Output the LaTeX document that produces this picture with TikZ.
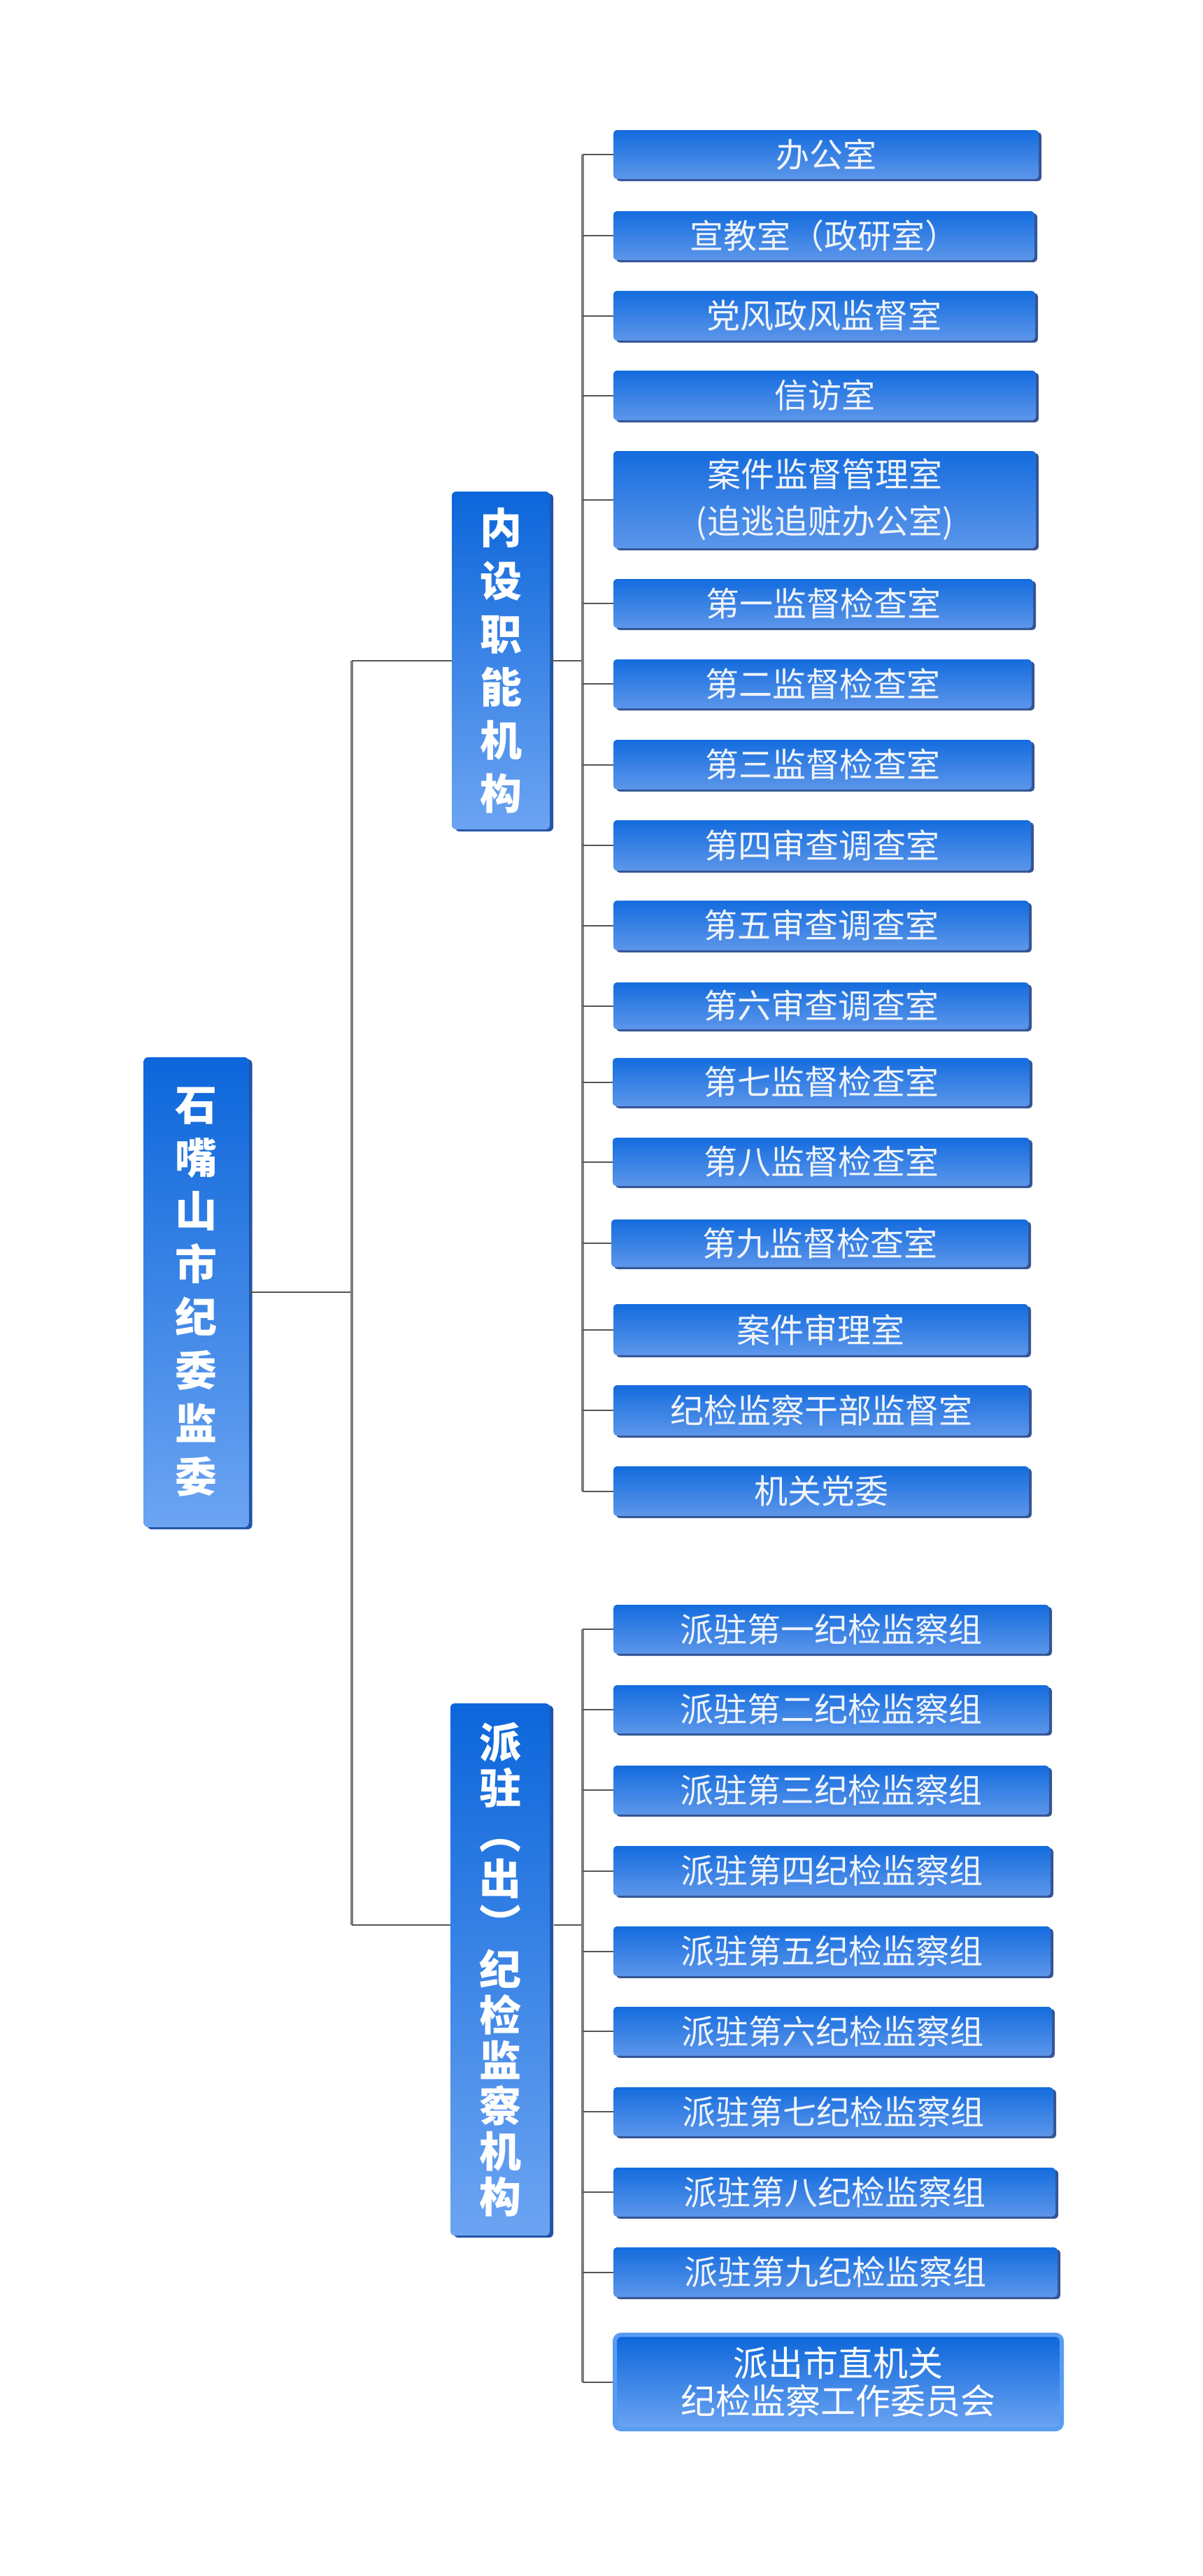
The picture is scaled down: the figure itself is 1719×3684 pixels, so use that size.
\documentclass[tikz,border=0pt]{standalone}
\usepackage{fontspec}
\newfontfamily\cjk{Noto Sans CJK SC}
\usetikzlibrary{shadows}
\definecolor{rtop}{RGB}{20,108,222}
\definecolor{rbot}{RGB}{92,150,234}
\definecolor{vtop}{RGB}{12,102,218}
\definecolor{vbot}{RGB}{108,164,242}
\definecolor{redge}{RGB}{52,84,148}
\definecolor{vedge}{RGB}{34,84,168}
\definecolor{vlc}{RGB}{125,125,125}
\definecolor{hlc}{RGB}{85,85,85}
\definecolor{rtext}{RGB}{240,244,250}
\definecolor{lastbd}{RGB}{88,156,244}
\newcommand\rfont{\cjk\fontsize{48}{67}\selectfont}
\newcommand\vfont{\cjk\bfseries\fontsize{60}{76}\selectfont}
\newcommand\pfont{\cjk\bfseries\fontsize{60}{65}\selectfont}
\newcommand\lfont{\cjk\fontsize{50}{54}\selectfont}
% name, left, top, bottom, right, text
\newcommand\rb[6]{%
  \node[rbox, minimum width={#5pt-#2pt-4pt}, minimum height={#4pt-#3pt-3pt}]
    (#1) at ({(#2+#5-4)/2},{(#3+#4-3)/2}) {#6};}
\tikzset{
  rbox/.style={rounded corners=5pt, top color=rtop, bottom color=rbot, draw=none,
    inner sep=0pt, align=center, text=rtext, font=\rfont,
    general shadow={fill=redge, shadow xshift=4pt, shadow yshift=-3pt}},
  vbox/.style={rounded corners=6pt, top color=vtop, bottom color=vbot, draw=none,
    inner sep=0pt, align=center, text=white, font=\vfont,
    general shadow={fill=vedge, shadow xshift=5pt, shadow yshift=-3pt}},
  lastbox/.style={rounded corners=9pt, top color=vtop, bottom color=vbot, draw=lastbd,
    line width=6pt, inner sep=0pt, align=center, text=white, font=\lfont},
  vln/.style={draw=vlc, line width=4pt},
  hln/.style={draw=hlc, line width=2pt},
}
\begin{document}
\begin{tikzpicture}[x=1pt, y=-1pt]
\useasboundingbox[fill=white] (0,0) rectangle (1719,3684);
% level 0 and 1
\node[vbox, minimum width=150pt, minimum height=672pt] (main) at (280.5,1848) {石\\嘴\\山\\市\\纪\\委\\监\\委};
\node[vbox, minimum width=140pt, minimum height=483pt] (nei) at (716,944.5) {内\\设\\职\\能\\机\\构};
\node[vbox, font=\pfont, minimum width=142pt, minimum height=761pt] (pai) at (715,2816.5) {派\\驻\\︵\\出\\︶\\纪\\检\\监\\察\\机\\构};
\coordinate (mx) at (503,0);
\coordinate (rx) at (833,0);
\coordinate (paiw) at (644,2753);
\coordinate (paie) at (792,2753);
% group 1
\rb{a1}{877}{186}{259}{1489}{办公室}
\rb{a2}{877}{302}{375}{1483}{宣教室（政研室）}
\rb{a3}{877}{416}{490}{1484}{党风政风监督室}
\rb{a4}{877}{530}{604}{1485}{信访室}
\rb{a5}{877}{645}{787}{1485}{案件监督管理室\\(追逃追赃办公室)}
\rb{a6}{877}{828}{901}{1481}{第一监督检查室}
\rb{a7}{877}{943}{1016}{1479}{第二监督检查室}
\rb{a8}{877}{1058}{1132}{1479}{第三监督检查室}
\rb{a9}{877}{1173}{1248}{1478}{第四审查调查室}
\rb{a10}{877}{1288}{1362}{1475}{第五审查调查室}
\rb{a11}{877}{1405}{1475}{1475}{第六审查调查室}
\rb{a12}{876}{1513}{1585}{1476}{第七监督检查室}
\rb{a13}{876}{1627}{1699}{1476}{第八监督检查室}
\rb{a14}{874}{1744}{1815}{1474}{第九监督检查室}
\rb{a15}{877}{1865}{1941}{1474}{案件审理室}
\rb{a16}{877}{1981}{2056}{1475}{纪检监察干部监督室}
\rb{a17}{877}{2097}{2171}{1475}{机关党委}
% group 2
\rb{b1}{877}{2295}{2368}{1504}{派驻第一纪检监察组}
\rb{b2}{877}{2410}{2482}{1504}{派驻第二纪检监察组}
\rb{b3}{877}{2525}{2598}{1504}{派驻第三纪检监察组}
\rb{b4}{877}{2640}{2714}{1506}{派驻第四纪检监察组}
\rb{b5}{877}{2755}{2829}{1506}{派驻第五纪检监察组}
\rb{b6}{877}{2870}{2943}{1508}{派驻第六纪检监察组}
\rb{b7}{877}{2985}{3058}{1510}{派驻第七纪检监察组}
\rb{b8}{877}{3100}{3173}{1513}{派驻第八纪检监察组}
\rb{b9}{877}{3214}{3288}{1516}{派驻第九纪检监察组}
\node[lastbox, minimum width=639pt, minimum height=135pt] (b10) at (1198.5,3406.5) {派出市直机关\\纪检监察工作委员会};
% connectors
\draw[hln] (main.east) -- (main.east -| mx);
\draw[vln] (mx |- nei.west) -- (mx |- paiw);
\draw[hln] (mx |- nei.west) -- (nei.west);
\draw[hln] (mx |- paiw) -- (paiw);
\draw[hln] (nei.east) -- (nei.east -| rx);
\draw[hln] (paie) -- (paie -| rx);
\draw[vln] (a1.west -| rx) -- (a17.west -| rx);
\foreach \i in {1,...,17} \draw[hln] (a\i.west -| rx) -- (a\i.west);
\draw[vln] (b1.west -| rx) -- (b10.west -| rx);
\foreach \i in {1,...,10} \draw[hln] (b\i.west -| rx) -- (b\i.west);
\end{tikzpicture}
\end{document}
